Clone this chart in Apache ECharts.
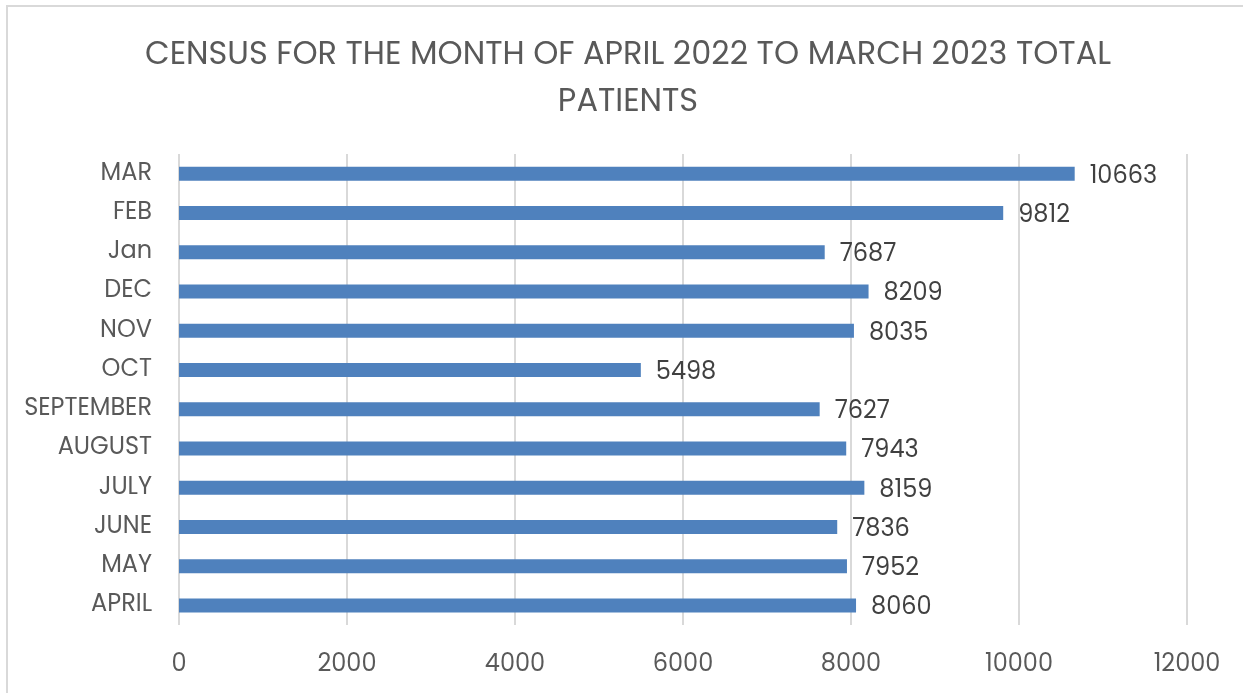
<!DOCTYPE html>
<html>
<head>
<meta charset="utf-8">
<script src="https://cdn.jsdelivr.net/npm/echarts@6/dist/echarts.min.js"></script>
<style>
  html, body { margin: 0; padding: 0; background: #ffffff; overflow: hidden; }
  #frame { position: absolute; left: 6px; top: 5px; width: 1300px; height: 760px; border: 2px solid #d9d9d9; box-sizing: border-box; }
  #chart { position: absolute; left: 0; top: 0; width: 1243px; height: 693px; }
</style>
</head>
<body>
<div id="frame"></div>
<div id="chart"></div>
<script>
// Monthly patient census, listed bottom-to-top as drawn on the category axis
const months = ['APRIL', 'MAY', 'JUNE', 'JULY', 'AUGUST', 'SEPTEMBER', 'OCT', 'NOV', 'DEC', 'Jan', 'FEB', 'MAR'];
const patients = [8060, 7952, 7836, 8159, 7943, 7627, 5498, 8035, 8209, 7687, 9812, 10663];
const titleText = 'CENSUS FOR THE MONTH OF APRIL 2022 TO MARCH 2023 TOTAL\nPATIENTS';

const font = 'Poppins, "Open Sans", sans-serif';
const chart = echarts.init(document.getElementById('chart'), null, { renderer: 'canvas' });

chart.setOption({
  animation: false,
  backgroundColor: 'transparent',
  title: {
    text: titleText,
    left: 623,
    textAlign: 'center',
    top: 27,
    textStyle: {
      fontFamily: font,
      fontSize: 32,
      fontWeight: 'normal',
      color: '#595959',
      lineHeight: 47
    }
  },
  grid: { left: 179, right: 56, top: 154, bottom: 68, containLabel: false },
  xAxis: {
    type: 'value',
    min: 0,
    max: 12000,
    interval: 2000,
    axisLine: { show: false },
    axisTick: { show: false },
    splitLine: { show: true, lineStyle: { color: '#d9d9d9', width: 2 } },
    axisLabel: {
      fontFamily: font,
      fontSize: 24,
      color: '#595959',
      margin: 25,
      padding: [3, 0, 0, 0],
      formatter: v => String(v)
    }
  },
  yAxis: {
    type: 'category',
    data: months,
    axisLine: { show: false },
    axisTick: { show: false },
    splitLine: { show: false },
    axisLabel: { fontFamily: font, fontSize: 24, color: '#595959', margin: 27, padding: [5, 0, 0, 0] }
  },
  series: [{
    type: 'bar',
    data: patients,
    barWidth: 14,
    itemStyle: { color: '#4f81bd' },
    label: {
      show: true,
      position: 'right',
      distance: 15,
      offset: [0, 3],
      fontFamily: font,
      fontSize: 24,
      color: '#404040'
    }
  }]
});
</script>
</body>
</html>
